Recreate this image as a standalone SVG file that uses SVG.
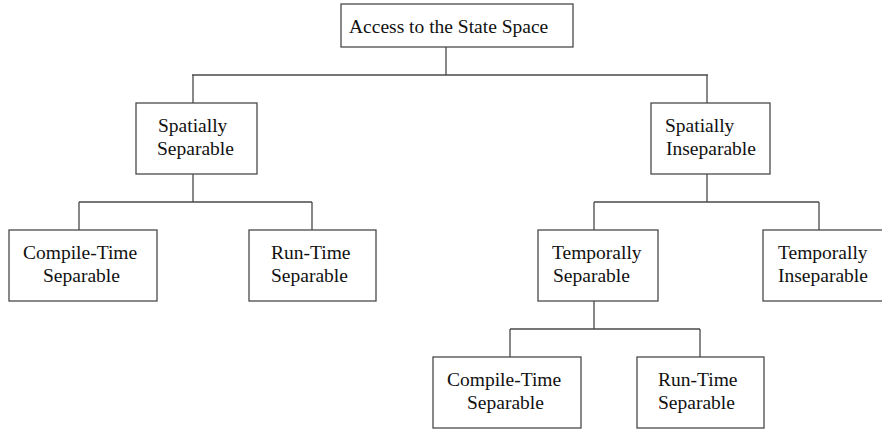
<svg xmlns="http://www.w3.org/2000/svg" width="882" height="429" viewBox="0 0 882 429">
<style>
.box{fill:#fff;stroke:#4a4a4a;stroke-width:1.3}
.c{fill:none;stroke:#4a4a4a;stroke-width:1.3}
text{font-family:"Liberation Serif","Times New Roman",serif;font-size:19.5px;fill:#111}
</style>
<rect width="882" height="429" fill="#fff"/>
<g id="connectors">
<path class="c" d="M446,47V75M192,75H708M193,75V103M707,75V103"/>
<path class="c" d="M193,174V202M79,202H312M79,202V230M312,202V230"/>
<path class="c" d="M707,174V202M594,202H819M594,202V230M819,202V230"/>
<path class="c" d="M594,301V329M510,329H700M510,329V357M700,329V357"/>
</g>
<g id="root">
<rect class="box" x="341" y="4" width="232" height="43"/>
<text x="349" y="33">Access to the State Space</text>
</g>
<g id="spatially-separable">
<rect class="box" x="136" y="103" width="121" height="71"/>
<text x="158" y="132">Spatially</text>
<text x="157" y="155">Separable</text>
</g>
<g id="spatially-inseparable">
<rect class="box" x="651" y="103" width="119" height="71"/>
<text x="665" y="132">Spatially</text>
<text x="666" y="155">Inseparable</text>
</g>
<g id="compile-time-1">
<rect class="box" x="9" y="230" width="148" height="71"/>
<text x="23" y="259">Compile-Time</text>
<text x="43" y="282">Separable</text>
</g>
<g id="run-time-1">
<rect class="box" x="249" y="230" width="127" height="71"/>
<text x="271" y="259">Run-Time</text>
<text x="271" y="282">Separable</text>
</g>
<g id="temporally-separable">
<rect class="box" x="538" y="230" width="120" height="71"/>
<text x="552" y="259">Temporally</text>
<text x="553" y="282">Separable</text>
</g>
<g id="temporally-inseparable">
<rect class="box" x="763" y="230" width="125" height="71"/>
<text x="778" y="259">Temporally</text>
<text x="778" y="282">Inseparable</text>
</g>
<g id="compile-time-2">
<rect class="box" x="433" y="357" width="148" height="71"/>
<text x="447" y="386">Compile-Time</text>
<text x="467" y="409">Separable</text>
</g>
<g id="run-time-2">
<rect class="box" x="637" y="357" width="127" height="71"/>
<text x="658" y="386">Run-Time</text>
<text x="658" y="409">Separable</text>
</g>
</svg>
